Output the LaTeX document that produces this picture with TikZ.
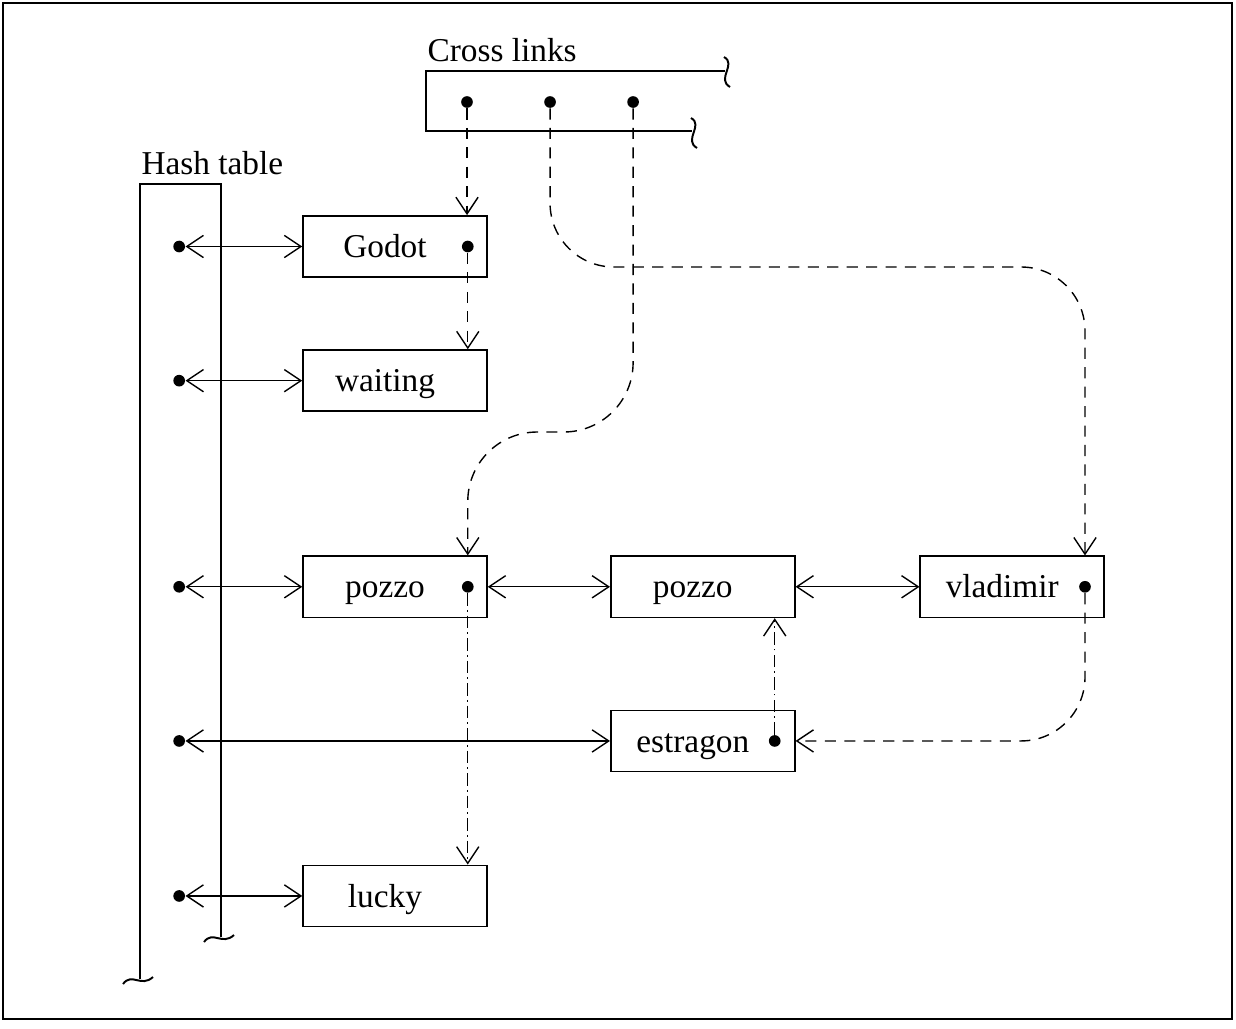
\documentclass[tikz,border=0pt]{standalone}
\usepackage{fontspec}
\setmainfont{Liberation Serif}
\usetikzlibrary{positioning,arrows.meta}

\begin{document}
\begin{tikzpicture}[x=0.36pt, y=-0.36pt, font=\fontsize{12}{14}\selectfont]
 	\tikzstyle{entry}=[rectangle, draw=black, line width=0.6pt, minimum width=66.2pt, minimum height=22pt, inner sep=0pt]
 	\tikzstyle{word}=[text height=8pt, text depth=0pt, xshift=-3.6pt]
 	\tikzstyle{dot}=[circle, fill=black, inner sep=0pt, minimum size=4.2pt]
 	\tikzstyle{link}=[{Straight Barb[length=6pt,width=8pt]}-{Straight Barb[length=6pt,width=8pt]}, line width=0.5pt]
 	\tikzstyle{cross}=[-{Straight Barb[length=6pt,width=8pt]}, line width=0.5pt, dash pattern=on 4pt off 3pt]
 	\tikzstyle{chain}=[-{Straight Barb[length=6pt,width=8pt]}, line width=0.5pt, dash pattern=on 4.5pt off 1.5pt on 0.6pt off 1.5pt]
 	\useasboundingbox (0,0) rectangle (1236,1028);
 	\draw[line width=1pt] (3,3) rectangle (1232,1019);
 	% cross links array
 	\node[anchor=base west, inner sep=0pt] (crosstitle) at (427,61) {Cross links};
 	\draw[line width=0.7pt] (725,71) -- (426,71) -- (426,131) -- (692,131);
 	\draw[line width=0.7pt] (724,57) .. controls (737,64) and (716,79) .. (730,87);
 	\draw[line width=0.7pt] (691,118) .. controls (704,125) and (683,140) .. (697,148);
 	\node[dot] (cl1) at (467,102) { };
 	\node[dot] (cl2) [right=25.3pt of cl1] { };
 	\node[dot] (cl3) [right=25.3pt of cl2] { };
 	% hash table
 	\node[anchor=base west, inner sep=0pt] (hashtitle) at (141,174) {Hash table};
 	\draw[line width=0.7pt] (140,979) -- (140,184) -- (221,184) -- (221,937);
 	\draw[line width=0.7pt] (123,984) .. controls (132,972) and (141,988) .. (153,977);
 	\draw[line width=0.7pt] (204,942) .. controls (213,930) and (222,946) .. (234,935);
 	% words
 	\node[entry] (godot) at (395,246.5) [label={[word]center:Godot}] { };
 	\node[entry] (waiting) [below=25.7pt of godot, label={[word]center:waiting}] { };
 	\node[entry] (pozzo) [below=51.6pt of waiting, label={[word]center:pozzo}] { };
 	\node[entry] (pozzo2) [right=44pt of pozzo, label={[word]center:pozzo}] { };
 	\node[entry] (vladimir) [right=44.6pt of pozzo2, label={[word]center:vladimir}] { };
 	\node[entry] (estragon) [below=32.9pt of pozzo2, label={[word]center:estragon}] { };
 	\node[entry] (lucky) [below=88.7pt of pozzo, label={[word]center:lucky}] { };
 	\node[dot] (gd) at ([xshift=-7.2pt]godot.east) { };
 	\node[dot] (pd) at ([xshift=-7.2pt]pozzo.east) { };
 	\node[dot] (vd) at ([xshift=-7.2pt]vladimir.east) { };
 	\node[dot] (ed) at ([xshift=-7.5pt]estragon.east) { };
 	\node[dot] (h1) [left=42pt of godot] { };
 	\node[dot] (h2) [left=42pt of waiting] { };
 	\node[dot] (h3) [left=42pt of pozzo] { };
 	\node[dot] (h4) at (h1 |- estragon) { };
 	\node[dot] (h5) [left=42pt of lucky] { };
 	\path (h1) edge [link] (godot)
 	(h2) edge [link] (waiting)
 	(h3) edge [link] (pozzo)
 	(h4) edge [link] (estragon)
 	(h5) edge [link] (lucky)
 	(pozzo) edge [link] (pozzo2)
 	(pozzo2) edge [link] (vladimir)
 	(cl1) edge [cross] (cl1 |- godot.north)
 	(gd) edge [cross] (gd |- waiting.north)
 	(pd) edge [chain] (pd |- lucky.north)
 	(ed) edge [chain] (ed |- pozzo2.south);
 	\draw[cross, rounded corners=23pt] (cl2) -- ++(0,165) -| (vd |- vladimir.north);
 	\draw[cross, rounded corners=25pt] (cl3) -- ++(0,330) -| (pd |- pozzo.north);
 	\draw[cross, rounded corners=23pt] (vd) |- (estragon.east);
\end{tikzpicture}
\end{document}
